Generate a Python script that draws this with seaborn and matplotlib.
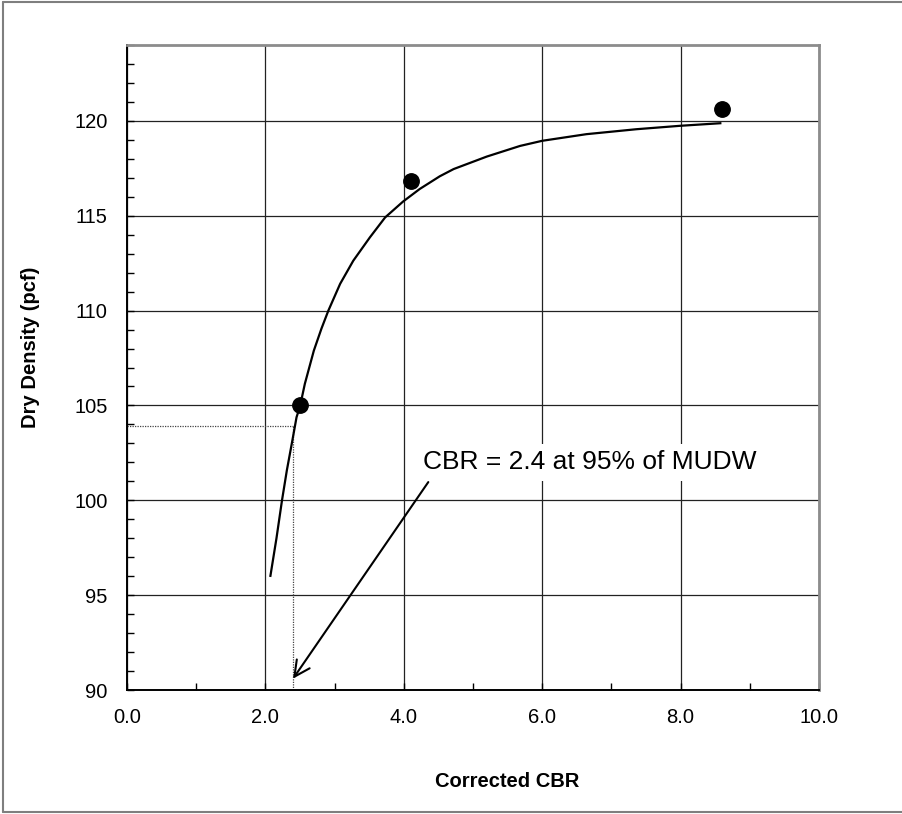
import numpy as np
import pandas as pd
import matplotlib
matplotlib.use("Agg")
import matplotlib.pyplot as plt
import seaborn as sns
from matplotlib.ticker import MultipleLocator, FormatStrFormatter
from matplotlib.lines import Line2D

# measured points
cbr = [2.5, 4.1, 8.6]
density = [105.0, 116.85, 120.65]

# fitted curve
curve_x = [2.07, 2.16, 2.24, 2.31, 2.39, 2.45, 2.50, 2.57, 2.70, 2.81, 2.91, 3.08,
           3.27, 3.51, 3.73, 3.99, 4.23, 4.52, 4.72, 5.20, 5.68, 6.00, 6.64, 7.36,
           7.99, 8.59]
curve_y = [95.96, 98.0, 100.0, 101.58, 103.16, 104.38, 104.95, 106.14, 107.89, 109.05,
           110.0, 111.41, 112.63, 113.86, 114.91, 115.75, 116.41, 117.08, 117.46, 118.12,
           118.68, 118.95, 119.30, 119.56, 119.74, 119.88]

# 95% of MUDW reading
target_cbr = 2.4
target_density = 103.9
note = "CBR = 2.4 at 95% of MUDW"

sns.set_style("white")
plt.rcParams["font.family"] = ["Liberation Sans", "DejaVu Sans"]
plt.rcParams["text.color"] = "black"
plt.rcParams["axes.labelcolor"] = "black"
plt.rcParams["xtick.color"] = "black"
plt.rcParams["ytick.color"] = "black"

fig = plt.figure(figsize=(9.03, 8.14), dpi=100)
ax = fig.add_axes([127 / 903, 1 - 690 / 814, 692 / 903, 645 / 814])

curve = pd.DataFrame({"x": curve_x, "y": curve_y})
pts = pd.DataFrame({"x": cbr, "y": density})

sns.lineplot(data=curve, x="x", y="y", ax=ax, color="black", lw=1.6, sort=False, zorder=3,
             solid_joinstyle="round", solid_capstyle="butt")
sns.scatterplot(data=pts, x="x", y="y", ax=ax, color="black", s=125, edgecolor="black", zorder=4)

# dotted guide lines
ax.plot([0, target_cbr], [target_density, target_density], color="#444444", lw=0.9,
        ls=(0, (1, 1)), zorder=2)
ax.plot([target_cbr, target_cbr], [90, target_density], color="#444444", lw=0.9,
        ls=(0, (1, 1)), zorder=2)

ax.annotate("", xy=(2.40, 90.6), xytext=(4.354, 100.96),
            arrowprops=dict(arrowstyle="->", lw=1.5, color="black", mutation_scale=28,
                            shrinkA=0, shrinkB=0), zorder=3)
ax.text(4.28, 102.0, note, fontsize=19, va="center", ha="left", zorder=5,
        bbox=dict(fc="white", ec="none", pad=4.8))

ax.set_xlim(0, 10)
ax.set_ylim(90, 124)
ax.xaxis.set_major_locator(MultipleLocator(2))
ax.xaxis.set_minor_locator(MultipleLocator(1))
ax.yaxis.set_major_locator(MultipleLocator(5))
ax.yaxis.set_minor_locator(MultipleLocator(1))
ax.xaxis.set_major_formatter(FormatStrFormatter("%.1f"))
ax.yaxis.set_major_formatter(FormatStrFormatter("%d"))

ax.grid(True, which="major", color="#222222", lw=0.9)
ax.set_axisbelow(True)
ax.tick_params(which="both", direction="in", left=True, bottom=True, right=False, top=False,
               color="black", width=1)
ax.tick_params(which="major", length=5, labelsize=14.5)
ax.tick_params(which="minor", length=5)
ax.tick_params(axis="y", which="major", pad=14)
ax.tick_params(axis="x", which="major", pad=13)

for s in ["left", "bottom"]:
    ax.spines[s].set_color("black")
    ax.spines[s].set_linewidth(1.4)
for s in ["top", "right"]:
    ax.spines[s].set_color("#8c8c8c")
    ax.spines[s].set_linewidth(2)

ax.set_xlabel("Corrected CBR", fontsize=14.5, fontweight="bold")
ax.set_ylabel("Dry Density (pcf)", fontsize=14.5, fontweight="bold")
ax.xaxis.set_label_coords(0.549, -0.127)
ax.yaxis.set_label_coords(-0.126, 0.532)

# chart border
for xs, ys in [([3 / 903, 3 / 903], [2 / 814, 812 / 814]),
               ([3 / 903, 1], [812 / 814, 812 / 814]),
               ([3 / 903, 1], [2 / 814, 2 / 814])]:
    fig.add_artist(Line2D(xs, ys, color="#7f7f7f", lw=1.5))

fig.savefig("out.png", dpi=100)
